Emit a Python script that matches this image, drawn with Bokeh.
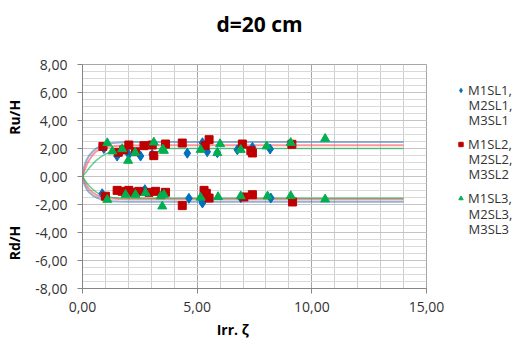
from bokeh.plotting import figure
from bokeh.layouts import row
from bokeh.models import Range1d, FixedTicker, Legend, LegendItem, Title, Label
from bokeh.embed import file_html
from bokeh.resources import INLINE

# ---------------- data ----------------
title_text = "d=20 cm"
x_title = "Irr. ζ"
y_title_up = "Ru/H"
y_title_dn = "Rd/H"
x_ticks = [0, 5, 10, 15]
x_tick_labels = ["0,00", "5,00", "10,00", "15,00"]
x_minor = list(range(0, 16))
y_ticks = [-8, -6, -4, -2, 0, 2, 4, 6, 8]
y_tick_labels = ["-8,00", "-6,00", "-4,00", "-2,00", "0,00", "2,00", "4,00", "6,00", "8,00"]
y_minor = [v / 2 for v in range(-16, 17)]

series_names = [["M1SL1,", "M2SL1,", "M3SL1"], ["M1SL2,", "M2SL2,", "M3SL2"], ["M1SL3,", "M2SL3,", "M3SL3"]]

# SL1 (blue diamonds)
sl1_x = [0.93, 1.51, 2.02, 2.53, 3.04, 4.57, 5.23, 5.44, 5.88, 6.75, 6.9, 7.41, 8.18,
         0.86, 2.72, 3.55, 4.64, 5.15, 5.23, 6.9, 8.21]
sl1_y = [2.00, 1.46, 1.58, 1.46, 1.58, 1.66, 2.41, 1.77, 1.70, 1.91, 2.06, 2.08, 1.96,
         -1.23, -0.94, -1.20, -1.56, -1.54, -1.89, -1.51, -1.54]
# SL2 (red squares)
sl2_x = [0.89, 1.56, 1.80, 2.02, 2.31, 2.68, 3.04, 3.11, 3.62, 4.35, 5.35, 5.52, 6.97, 7.34, 7.41, 9.13,
         1.00, 1.51, 1.73, 2.02, 2.24, 2.46, 2.90, 3.19, 3.62, 4.35, 5.30, 5.40, 5.52, 7.04, 7.41, 9.16]
sl2_y = [2.15, 1.73, 1.90, 2.25, 1.77, 2.20, 2.25, 1.49, 2.32, 2.39, 2.20, 2.63, 2.32, 1.84, 1.68, 2.30,
         -1.41, -0.99, -1.06, -0.99, -1.13, -1.06, -1.13, -1.06, -1.13, -2.08, -0.99, -1.20, -1.54, -1.46, -1.30, -1.82]
# SL3 (green triangles)
sl3_x = [1.08, 1.30, 1.73, 1.99, 2.30, 3.11, 3.50, 3.55, 5.15, 5.88, 6.00, 6.90, 8.03, 9.08, 10.58,
         1.08, 1.88, 2.31, 2.75, 3.41, 3.48, 3.55, 5.15, 5.91, 6.90, 8.07, 9.08, 10.58]
sl3_y = [2.39, 1.80, 1.96, 1.13, 1.70, 2.44, 1.95, 1.84, 1.91, 1.68, 2.32, 1.91, 2.16, 2.41, 2.70,
         -1.66, -1.30, -1.30, -1.18, -1.41, -2.13, -1.30, -1.50, -1.46, -1.40, -1.41, -1.39, -1.63]
series_x = [sl1_x, sl2_x, sl3_x]
series_y = [sl1_y, sl2_y, sl3_y]

# fitted trend curves
curve_x = [0, 0.05, 0.1, 0.2, 0.3, 0.45, 0.6, 0.8, 1.0, 1.3, 1.6, 2.0, 3.0, 14.0]
sl1_up = [0, 0.55, 0.85, 1.25, 1.52, 1.80, 2.00, 2.18, 2.30, 2.39, 2.43, 2.46, 2.47, 2.47]
sl1_dn = [0, -0.40, -0.62, -0.95, -1.15, -1.36, -1.50, -1.62, -1.70, -1.76, -1.79, -1.80, -1.81, -1.81]
sl2_up = [0, 0.28, 0.50, 0.90, 1.20, 1.55, 1.80, 1.98, 2.08, 2.16, 2.20, 2.22, 2.24, 2.24]
sl2_dn = [0, -0.22, -0.40, -0.70, -0.92, -1.15, -1.32, -1.45, -1.53, -1.58, -1.61, -1.62, -1.63, -1.63]
sl3_up = [0, 0.10, 0.20, 0.40, 0.62, 0.90, 1.15, 1.40, 1.60, 1.80, 1.90, 1.96, 2.00, 2.00]
sl3_dn = [0, -0.12, -0.25, -0.48, -0.68, -0.92, -1.12, -1.30, -1.42, -1.50, -1.53, -1.55, -1.56, -1.56]

# ---------------- styles ----------------
FONT = "Open Sans"
TXT = "#333333"
NB = "\u00a0"
marker_styles = [dict(marker="diamond", size=10, fill_color="#0070c0", line_color="#0070c0"),
                 dict(marker="square", size=8, fill_color="#c00000", line_color="#c00000"),
                 dict(marker="triangle", size=9, fill_color="#00b050", line_color="#00b050")]
legend_sizes = [7, 6, 7]

# ---------------- main figure ----------------
p = figure(width=446, height=344, output_backend="svg", toolbar_location=None, title=None,
           x_range=Range1d(0, 15), y_range=Range1d(-8, 8),
           min_border_left=82, min_border_right=20, min_border_top=0, min_border_bottom=56)
p.outline_line_color = "#a6a6a6"
p.background_fill_color = "white"
p.border_fill_color = "white"

# spacer (nearest the frame) then the real title above it
p.add_layout(Title(text=NB, text_font_size="10px", standoff=14, text_color="white"), "above")
p.add_layout(Title(text=title_text, align="left", offset=134, text_font=FONT, text_font_size="21px",
                   text_font_style="bold", text_color="#000000", standoff=0), "above")

p.xaxis.ticker = FixedTicker(ticks=x_ticks, minor_ticks=x_minor)
p.yaxis.ticker = FixedTicker(ticks=y_ticks, minor_ticks=y_minor)
p.xaxis.major_label_overrides = dict(zip(x_ticks, x_tick_labels))
p.yaxis.major_label_overrides = dict(zip(y_ticks, y_tick_labels))

for ax in (p.xaxis, p.yaxis):
    ax.axis_line_color = "#868686"
    ax.major_tick_line_color = "#868686"
    ax.major_tick_out = 5
    ax.major_tick_in = 0
    ax.minor_tick_out = 0
    ax.minor_tick_in = 0
    ax.major_label_text_font = FONT
    ax.major_label_text_font_size = "14px"
    ax.major_label_text_color = TXT
    ax.axis_label_text_font = FONT
    ax.axis_label_text_font_size = "14px"
    ax.axis_label_text_font_style = "bold"
    ax.axis_label_text_color = "#000000"
p.yaxis.major_label_standoff = 10
p.xaxis.major_label_standoff = 8
p.yaxis.axis_label = y_title_dn + NB * 25 + y_title_up + NB * 2
p.yaxis.axis_label_standoff = 8
p.xaxis.axis_label = x_title + NB * 12
p.xaxis.axis_label_standoff = 5

p.xgrid.grid_line_color = "#a6a6a6"
p.xgrid.minor_grid_line_color = "#cfcfcf"
p.ygrid.grid_line_color = "#c4c4c4"
p.ygrid.minor_grid_line_color = "#d9d9d9"

# trend curves
p.line(curve_x, sl1_up, line_color="#4a7ebb", line_width=2, line_alpha=0.6)
p.line(curve_x, sl1_dn, line_color="#4a7ebb", line_width=2, line_alpha=0.6)
p.line(curve_x, sl2_up, line_color="#ff5050", line_width=2, line_alpha=0.6)
p.line(curve_x, sl2_dn, line_color="#ff5050", line_width=2, line_alpha=0.6)
p.line(curve_x, sl3_up, line_color="#00b050", line_width=1.5, line_alpha=0.6)
p.line(curve_x, sl3_dn, line_color="#00b050", line_width=1.5, line_alpha=0.6)

# markers
for sx, sy, style in zip(series_x, series_y, marker_styles):
    p.scatter(sx, sy, **style)

# ---------------- legend panel (ranges in page pixels, y downwards) ----------------
lf = figure(width=75, height=344, output_backend="svg", toolbar_location=None,
            x_range=Range1d(0, 75), y_range=Range1d(288, 64),
            min_border_left=0, min_border_right=0, min_border_top=64, min_border_bottom=56)
lf.axis.visible = False
lf.grid.visible = False
lf.outline_line_color = None
lf.background_fill_color = "white"
lf.border_fill_color = "white"

items = []
for sx, sy, style, name, ls in zip(series_x, series_y, marker_styles, series_names, legend_sizes):
    st = dict(style)
    st["size"] = ls
    r = lf.scatter(sx, sy, visible=False, **st)
    items.append(LegendItem(label=name[0], renderers=[r]))

legend = Legend(items=items, location=(9, 81), orientation="vertical",
                label_text_font=FONT, label_text_font_size="13px", label_text_color=TXT,
                glyph_width=11, glyph_height=18, label_height=18, spacing=36,
                padding=0, margin=0, label_standoff=2,
                inactive_fill_alpha=0, click_policy="none",
                background_fill_alpha=0, border_line_alpha=0)
lf.add_layout(legend, "center")

line_centers = [[104, 119], [158, 173], [213, 228]]
for centers, name in zip(line_centers, series_names):
    for cy, txt in zip(centers, name[1:]):
        lf.add_layout(Label(x=22, y=cy, text=txt, text_align="left", text_baseline="middle",
                            text_font=FONT, text_font_size="13px", text_color=TXT))

open("out.html", "w").write(file_html(row(p, lf), INLINE))
